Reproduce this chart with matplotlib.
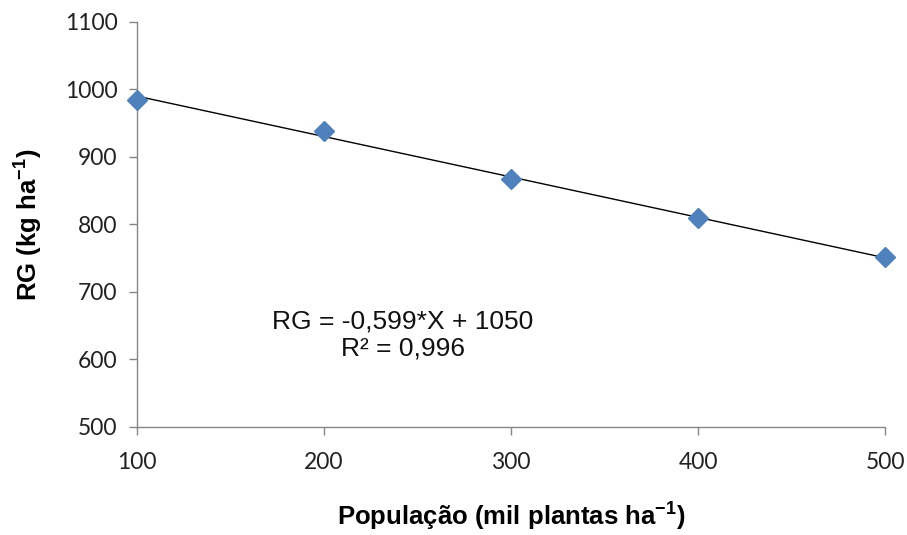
import matplotlib

matplotlib.use("Agg")
import matplotlib.pyplot as plt
import numpy as np

# plant population (thousand plants/ha) and grain yield (kg/ha)
population = [100, 200, 300, 400, 500]
yield_rg = [985, 939, 867, 810, 752]

slope = -0.599
intercept = 1050
equation_label = "RG = -0,599*X + 1050\nR² = 0,996"

x_ticks = [100, 200, 300, 400, 500]
y_ticks = [500, 600, 700, 800, 900, 1000, 1100]

plt.rcParams["mathtext.default"] = "regular"

fig = plt.figure(figsize=(9.07, 5.35), dpi=100)
ax = fig.add_axes([0.151, 0.202, 0.825, 0.757])

fit_x = np.array([population[0], population[-1]])
ax.plot(fit_x, slope * fit_x + intercept, color="black", linewidth=1.0, zorder=2)
ax.plot(population, yield_rg, linestyle="none", marker="D", markersize=10.5,
        color="#4F81BD", zorder=3, clip_on=False)

ax.set_xlim(100, 500)
ax.set_ylim(500, 1100)
ax.set_xticks(x_ticks)
ax.set_yticks(y_ticks)

for side in ("top", "right"):
    ax.spines[side].set_visible(False)
for side in ("left", "bottom"):
    ax.spines[side].set_color("#868686")
    ax.spines[side].set_linewidth(1.0)

ax.tick_params(direction="out", length=6, width=1.0, color="#868686",
               labelsize=16.5, labelcolor="#222222", pad=8)
for lab in ax.get_xticklabels() + ax.get_yticklabels():
    lab.set_fontfamily("Lato")
ax.tick_params(axis="x", pad=12)

ax.set_xlabel("População (mil plantas ha$^{-1}$)", fontsize=18.5,
              fontweight="bold", fontfamily="Liberation Sans", labelpad=20)
ax.set_ylabel("RG (kg ha$^{-1}$)", fontsize=18.5, fontweight="bold",
              fontfamily="Liberation Sans", labelpad=14)

ax.text(242, 636, equation_label, fontsize=19, fontfamily="Liberation Sans",
        ha="center", va="center", linespacing=1.15, color="#111111")

fig.savefig("out.png", dpi=100)
